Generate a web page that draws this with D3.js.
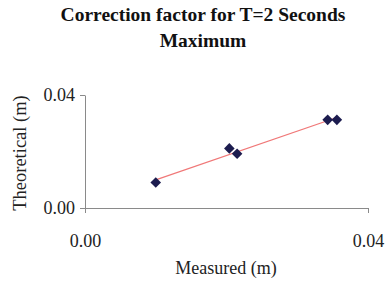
<!DOCTYPE html>
<html>
<head>
<script src="https://d3js.org/d3.v7.min.js"></script>
<style>
  body { margin: 0; background: #fff; }
  svg text { font-family: "Liberation Serif", "DejaVu Serif", serif; }
</style>
</head>
<body>
<div id="chart"></div>
<script>
// values
const measured = [0.0100, 0.0204, 0.0215, 0.0343, 0.0356];
const theoretical = [0.0090, 0.0211, 0.0192, 0.0312, 0.0312];
const xTicks = [0, 0.04];
const yTicks = [0, 0.04];
const titleLines = ["Correction factor for T=2 Seconds", "Maximum"];

const W = 388, H = 284;
const margin = {top: 95, right: 20, bottom: 76, left: 85};
const width = W - margin.left - margin.right,
      height = H - margin.top - margin.bottom;
const serif = "'Liberation Serif', 'Times New Roman', serif";

const svg = d3.select("#chart").append("svg").attr("width", W).attr("height", H);
const g = svg.append("g").attr("transform", "translate(" + margin.left + "," + margin.top + ")");

const x = d3.scaleLinear().domain([0, 0.04]).range([0, width]);
const y = d3.scaleLinear().domain([0, 0.04]).range([height, 0]);

// title
svg.append("text")
    .attr("text-anchor", "middle")
    .attr("font-family", serif)
    .attr("font-weight", "bold").attr("font-size", "19.5px")
    .attr("fill", "#111")
    .selectAll("tspan").data(titleLines).enter().append("tspan")
    .attr("x", 203).attr("y", (d, i) => 21 + i * 26)
    .text(d => d);

// axes
const xAxis = g.append("g")
    .attr("transform", "translate(0," + height + ")")
    .call(d3.axisBottom(x).tickValues(xTicks).tickSize(5).tickSizeOuter(0).tickFormat(d3.format(".2f")));
const yAxis = g.append("g")
    .call(d3.axisLeft(y).tickValues(yTicks).tickSize(5).tickSizeOuter(0).tickFormat(d3.format(".2f")));

[xAxis, yAxis].forEach(a => {
    a.attr("font-family", serif).attr("font-size", 18);
    a.selectAll("path, line").attr("stroke", "#8a8a8a");
    a.selectAll("text").attr("fill", "#222");
});
xAxis.selectAll("text").attr("dy", "1.7em");
yAxis.selectAll("text").attr("x", -10);

// trendline (least squares fit over the points)
const mx = d3.mean(measured), my = d3.mean(theoretical);
const slope = d3.sum(measured, (v, i) => (v - mx) * (theoretical[i] - my)) /
              d3.sum(measured, v => (v - mx) * (v - mx));
const icpt = my - slope * mx;
const xr = d3.extent(measured);
g.append("path")
    .datum(xr.map(v => [v, slope * v + icpt]))
    .attr("fill", "none")
    .attr("stroke", "#f07878")
    .attr("stroke-width", 1.2)
    .attr("d", d3.line().x(d => x(d[0])).y(d => y(d[1])));

// points
const diamond = d3.symbol().type(d3.symbolSquare).size(56);
g.selectAll(".pt")
    .data(measured.map((v, i) => [v, theoretical[i]]))
    .enter().append("path")
    .attr("class", "pt")
    .attr("transform", d => "translate(" + x(d[0]) + "," + y(d[1]) + ") rotate(45)")
    .attr("d", diamond)
    .attr("fill", "#1c1c4f");

// axis titles
svg.append("text")
    .attr("x", 226).attr("y", 274)
    .attr("text-anchor", "middle")
    .attr("font-family", serif).attr("font-size", "18px").attr("fill", "#222")
    .text("Measured (m)");
svg.append("text")
    .attr("transform", "translate(26,153) rotate(-90)")
    .attr("text-anchor", "middle")
    .attr("font-family", serif).attr("font-size", "18.5px").attr("fill", "#222")
    .text("Theoretical (m)");
</script>
</body>
</html>
